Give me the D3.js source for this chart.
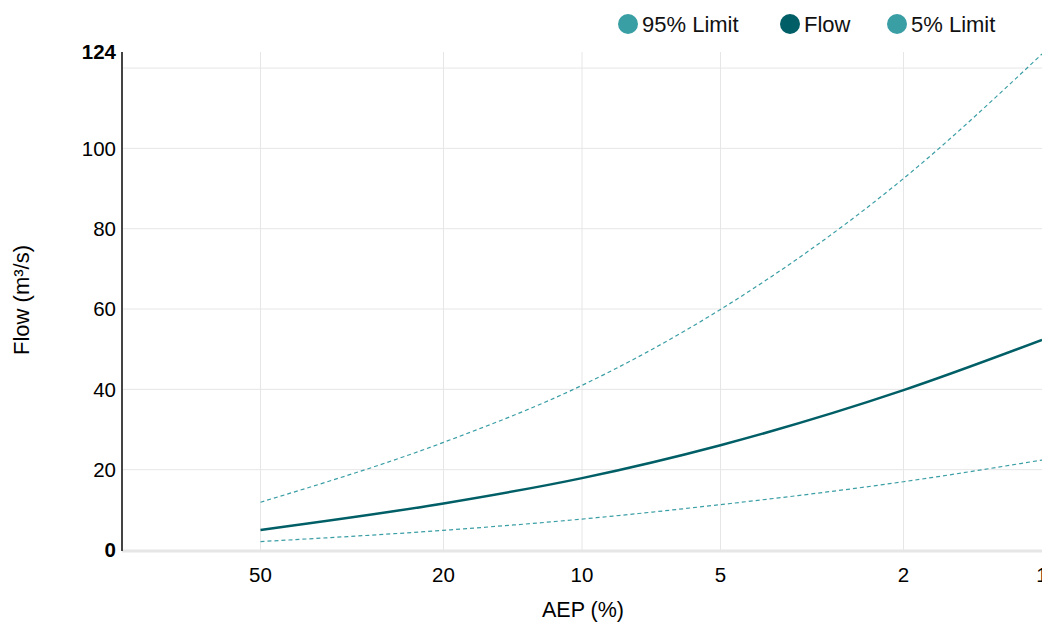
<!DOCTYPE html>
<html><head><meta charset="utf-8">
<script src="https://cdn.jsdelivr.net/npm/d3@7"></script>
<style>
html,body{margin:0;padding:0;background:#fff;overflow:hidden;}
text{font-family:"Liberation Sans",Arial,Helvetica,sans-serif;}
</style></head>
<body><svg id="c" width="1042" height="623"></svg>
<script>
const aep = [50, 20, 10, 5, 2, 1];
const flow = [5.0, 11.6, 17.9, 26.1, 39.8, 52.3];
const upper95 = [11.9, 26.8, 41.0, 59.9, 92.5, 123.5];
const lower5 = [2.1, 4.9, 7.7, 11.3, 17.0, 22.4];
const xTicks = [50, 20, 10, 5, 2, 1];
const yTicks = [0, 20, 40, 60, 80, 100, 124];
const yGrid = [20, 40, 60, 80, 100, 120];
const legendItems = [
  {name: "95% Limit", color: "#3a9ea5"},
  {name: "Flow", color: "#005f66"},
  {name: "5% Limit", color: "#3a9ea5"}
];

const svg = d3.select("#c");
const L = 122, R = 1042, T = 52, B = 550;
const x = d3.scaleLog().domain([100, 1]).range([L, R]);
const y = d3.scaleLinear().domain([0, 124]).range([B, T]);

// grid
svg.append("g").selectAll("line").data(yGrid).join("line")
  .attr("x1", L).attr("x2", R).attr("y1", d => y(d)).attr("y2", d => y(d))
  .attr("stroke", "#e6e6e6").attr("stroke-width", 1);
svg.append("g").selectAll("line").data(xTicks.filter(d => d !== 1)).join("line")
  .attr("x1", d => x(d)).attr("x2", d => x(d)).attr("y1", T).attr("y2", B)
  .attr("stroke", "#e6e6e6").attr("stroke-width", 1);

// x axis line
svg.append("line").attr("x1", L).attr("x2", R).attr("y1", B + 1).attr("y2", B + 1)
  .attr("stroke", "#e6e6e6").attr("stroke-width", 3);
// y axis line
svg.append("line").attr("x1", L).attr("x2", L).attr("y1", T).attr("y2", B + 1)
  .attr("stroke", "#444").attr("stroke-width", 2);

// tick labels
svg.append("g").selectAll("text").data(yTicks).join("text")
  .attr("x", L - 6).attr("y", d => y(d)).attr("dy", "0.36em")
  .attr("text-anchor", "end").attr("font-size", 20.5)
  .attr("font-weight", d => (d === 0 || d === 124) ? "bold" : "normal")
  .attr("fill", "#000").text(d => d);
svg.append("g").selectAll("text").data(xTicks).join("text")
  .attr("x", d => x(d)).attr("y", 582)
  .attr("text-anchor", "middle").attr("font-size", 20.5)
  .attr("fill", "#000").text(d => d);

// axis titles
svg.append("text").attr("x", 583).attr("y", 617).attr("text-anchor", "middle")
  .attr("font-size", 21.5).text("AEP (%)");
svg.append("text").attr("transform", "translate(29,300) rotate(-90)")
  .attr("text-anchor", "middle").attr("font-size", 22).text("Flow (m³/s)");

// lines
const line = d3.line().x((d, i) => x(aep[i])).y(d => y(d)).curve(d3.curveMonotoneX);
svg.append("path").attr("d", line(upper95)).attr("fill", "none")
  .attr("stroke", "#3a9ea5").attr("stroke-width", 1.2).attr("stroke-dasharray", "4,3");
svg.append("path").attr("d", line(lower5)).attr("fill", "none")
  .attr("stroke", "#3a9ea5").attr("stroke-width", 1.2).attr("stroke-dasharray", "4,3");
svg.append("path").attr("d", line(flow)).attr("fill", "none")
  .attr("stroke", "#005f66").attr("stroke-width", 2.5);

// legend
const lx = [628, 790, 897];
const lg = svg.append("g").selectAll("g").data(legendItems).join("g")
  .attr("transform", (d, i) => `translate(${lx[i]},24)`);
lg.append("circle").attr("r", 10).attr("fill", d => d.color);
lg.append("text").attr("x", 14).attr("dy", "0.36em").attr("font-size", 22)
  .attr("fill", "#111").text(d => d.name);
</script></body></html>
